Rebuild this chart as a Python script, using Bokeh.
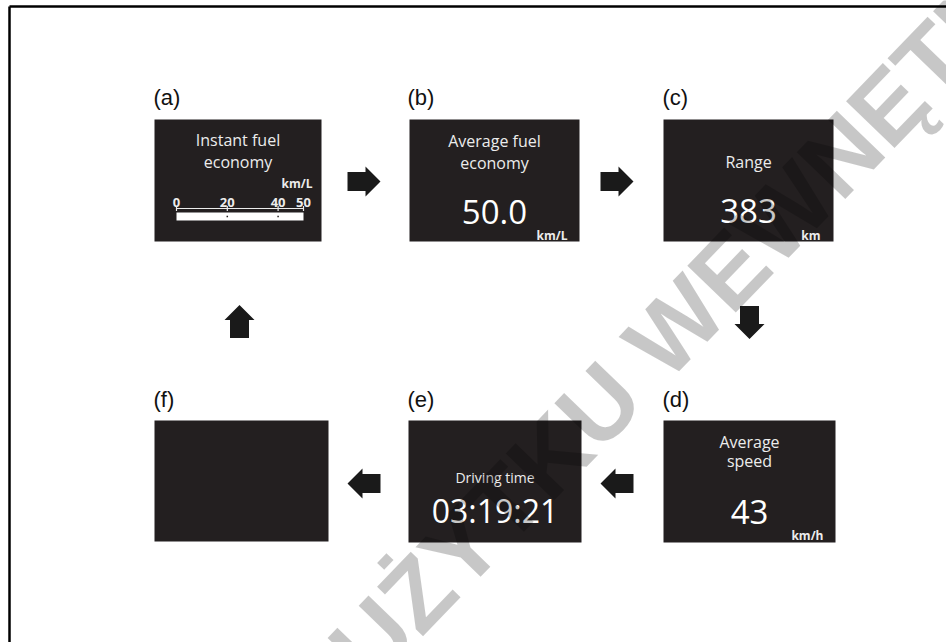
import math
from bokeh.plotting import figure
from bokeh.models import Range1d
from bokeh.core.properties import value
from bokeh.embed import file_html
from bokeh.resources import INLINE

# ---- content ----
panel_labels = ["(a)", "(b)", "(c)", "(d)", "(e)", "(f)"]
title_line1 = ["Instant fuel", "Average fuel", "Range", "Average", "Driving time", ""]
title_line2 = ["economy", "economy", "", "speed", "", ""]
readouts = ["", "50.0", "383", "43", "03:19:21", ""]
units = ["km/L", "km/L", "km", "km/h", "", ""]
scale_ticks = [0, 20, 40, 50]
scale_max = 50
arrow_dirs = ["right", "right", "down", "left", "left", "up"]
watermark = "UŻYTKU WEWNĘTRZNEGO"

# ---- layout (pixel positions in the picture) ----
boxes = [(154, 321, 119, 241), (409, 579, 119, 241), (663, 833, 119, 241),
         (663, 835, 420, 542), (408, 581, 420, 542), (154, 328, 420, 541)]
label_pos = [(153, 97), (407, 97), (662, 97), (662, 399), (407, 399), (153, 399)]
title_y = [(139, 161), (140, 162), (161, None), (441, 460), (477, None), (None, None)]
title_size = ["16px", "16px", "16px", "16px", "14px", "16px"]
value_y = [None, 211, 210, 511, 510, None]
value_size = ["33px", "33px", "33px", "33px", "32px", "33px"]
unit_pos = [(312, 183), (567, 235), (820, 235), (823, 535), None, None]
arrow_centers = [(363.5, 181), (616.5, 181), (749, 322), (616.5, 483), (363.5, 483), (239, 321)]
scale_x0, scale_x1 = 176, 303

W, H = 946, 642
p = figure(width=W, height=H, output_backend="svg", toolbar_location=None,
           x_range=Range1d(0, W), y_range=Range1d(H, 0),
           x_axis_type=None, y_axis_type=None, min_border=0,
           outline_line_color=None, background_fill_color="white",
           border_fill_color="white")
p.grid.visible = False

PANEL = "#231f20"
LIGHT = "#ececec"
FONT = value("Open Sans")

# frame lines (top / left)
p.line([9, W], [6, 6], line_color="black", line_width=2.5)
p.line([9, 9], [6, H], line_color="black", line_width=2.5)

# panels
p.quad(left=[b[0] for b in boxes], right=[b[1] for b in boxes],
       top=[b[2] for b in boxes], bottom=[b[3] for b in boxes],
       fill_color=PANEL, line_color=None)

# panel labels
p.text(x=[q[0] for q in label_pos], y=[q[1] for q in label_pos], text=panel_labels,
       text_font=value("Liberation Sans"), text_font_size="22px", text_color="#111111",
       text_align="left", text_baseline="middle")

# titles / readouts / units
for i in range(6):
    x0, x1, y0, y1 = boxes[i]
    cx = (x0 + x1) / 2
    l1, l2 = title_y[i]
    if title_line1[i] and l1:
        p.text(x=[cx], y=[l1], text=[title_line1[i]], text_font=FONT,
               text_font_size=title_size[i], text_color=LIGHT,
               text_align="center", text_baseline="alphabetic")
    if title_line2[i] and l2:
        p.text(x=[cx], y=[l2], text=[title_line2[i]], text_font=FONT,
               text_font_size=title_size[i], text_color=LIGHT,
               text_align="center", text_baseline="alphabetic")
    if readouts[i] and value_y[i]:
        p.text(x=[cx], y=[value_y[i]], text=[readouts[i]], text_font=FONT,
               text_font_size=value_size[i], text_color="white",
               text_align="center", text_baseline="alphabetic")
    if units[i] and unit_pos[i]:
        p.text(x=[unit_pos[i][0]], y=[unit_pos[i][1]], text=[units[i]], text_font=FONT,
               text_font_size="12px", text_font_style="bold", text_color=LIGHT,
               text_align="right", text_baseline="alphabetic")

# instant fuel economy scale (panel a)
def sx(v):
    return scale_x0 + (scale_x1 - scale_x0) * v / scale_max

tx = [sx(v) for v in scale_ticks]
p.text(x=tx, y=[202] * len(tx), text=[str(v) for v in scale_ticks], text_font=FONT,
       text_font_size="13px", text_font_style="bold", text_color=LIGHT,
       text_align="center", text_baseline="alphabetic")
p.line([sx(0), sx(scale_max)], [208, 208], line_color=LIGHT, line_width=1.2)
p.segment(x0=tx, y0=[205.5] * len(tx), x1=tx, y1=[210.5] * len(tx), line_color=LIGHT, line_width=1.2)
p.quad(left=[sx(0)], right=[sx(scale_max)], top=[212], bottom=[220], fill_color="white", line_color=None)
inner = [sx(v) for v in scale_ticks[1:-1]]
p.rect(x=inner, y=[216] * len(inner), width=1.5, height=1.5, fill_color=PANEL, line_color=None)

# arrows
def arrow(cx, cy, d, L=33, head=15, hh=15, sh=9.5):
    pts_u = [-L / 2, L / 2 - head, L / 2 - head, L / 2, L / 2 - head, L / 2 - head, -L / 2]
    pts_v = [-sh, -sh, -hh, 0, hh, sh, sh]
    ux, uy = {"right": (1, 0), "left": (-1, 0), "down": (0, 1), "up": (0, -1)}[d]
    vx, vy = -uy, ux
    xs = [cx + a * ux + b * vx for a, b in zip(pts_u, pts_v)]
    ys = [cy + a * uy + b * vy for a, b in zip(pts_u, pts_v)]
    return xs, ys

axs, ays = [], []
for (cx, cy), d in zip(arrow_centers, arrow_dirs):
    xs, ys = arrow(cx, cy, d)
    axs.append(xs)
    ays.append(ys)
p.patches(axs, ays, fill_color="#1a1a1a", line_color=None)

# watermark
p.text(x=[347], y=[665], text=[watermark], angle=math.radians(46),
       text_font=value("Liberation Sans"), text_font_size="98px", text_font_style="bold",
       text_color="black", text_alpha=0.22, text_align="left", text_baseline="alphabetic")

open("out.html", "w").write(file_html(p, INLINE))
